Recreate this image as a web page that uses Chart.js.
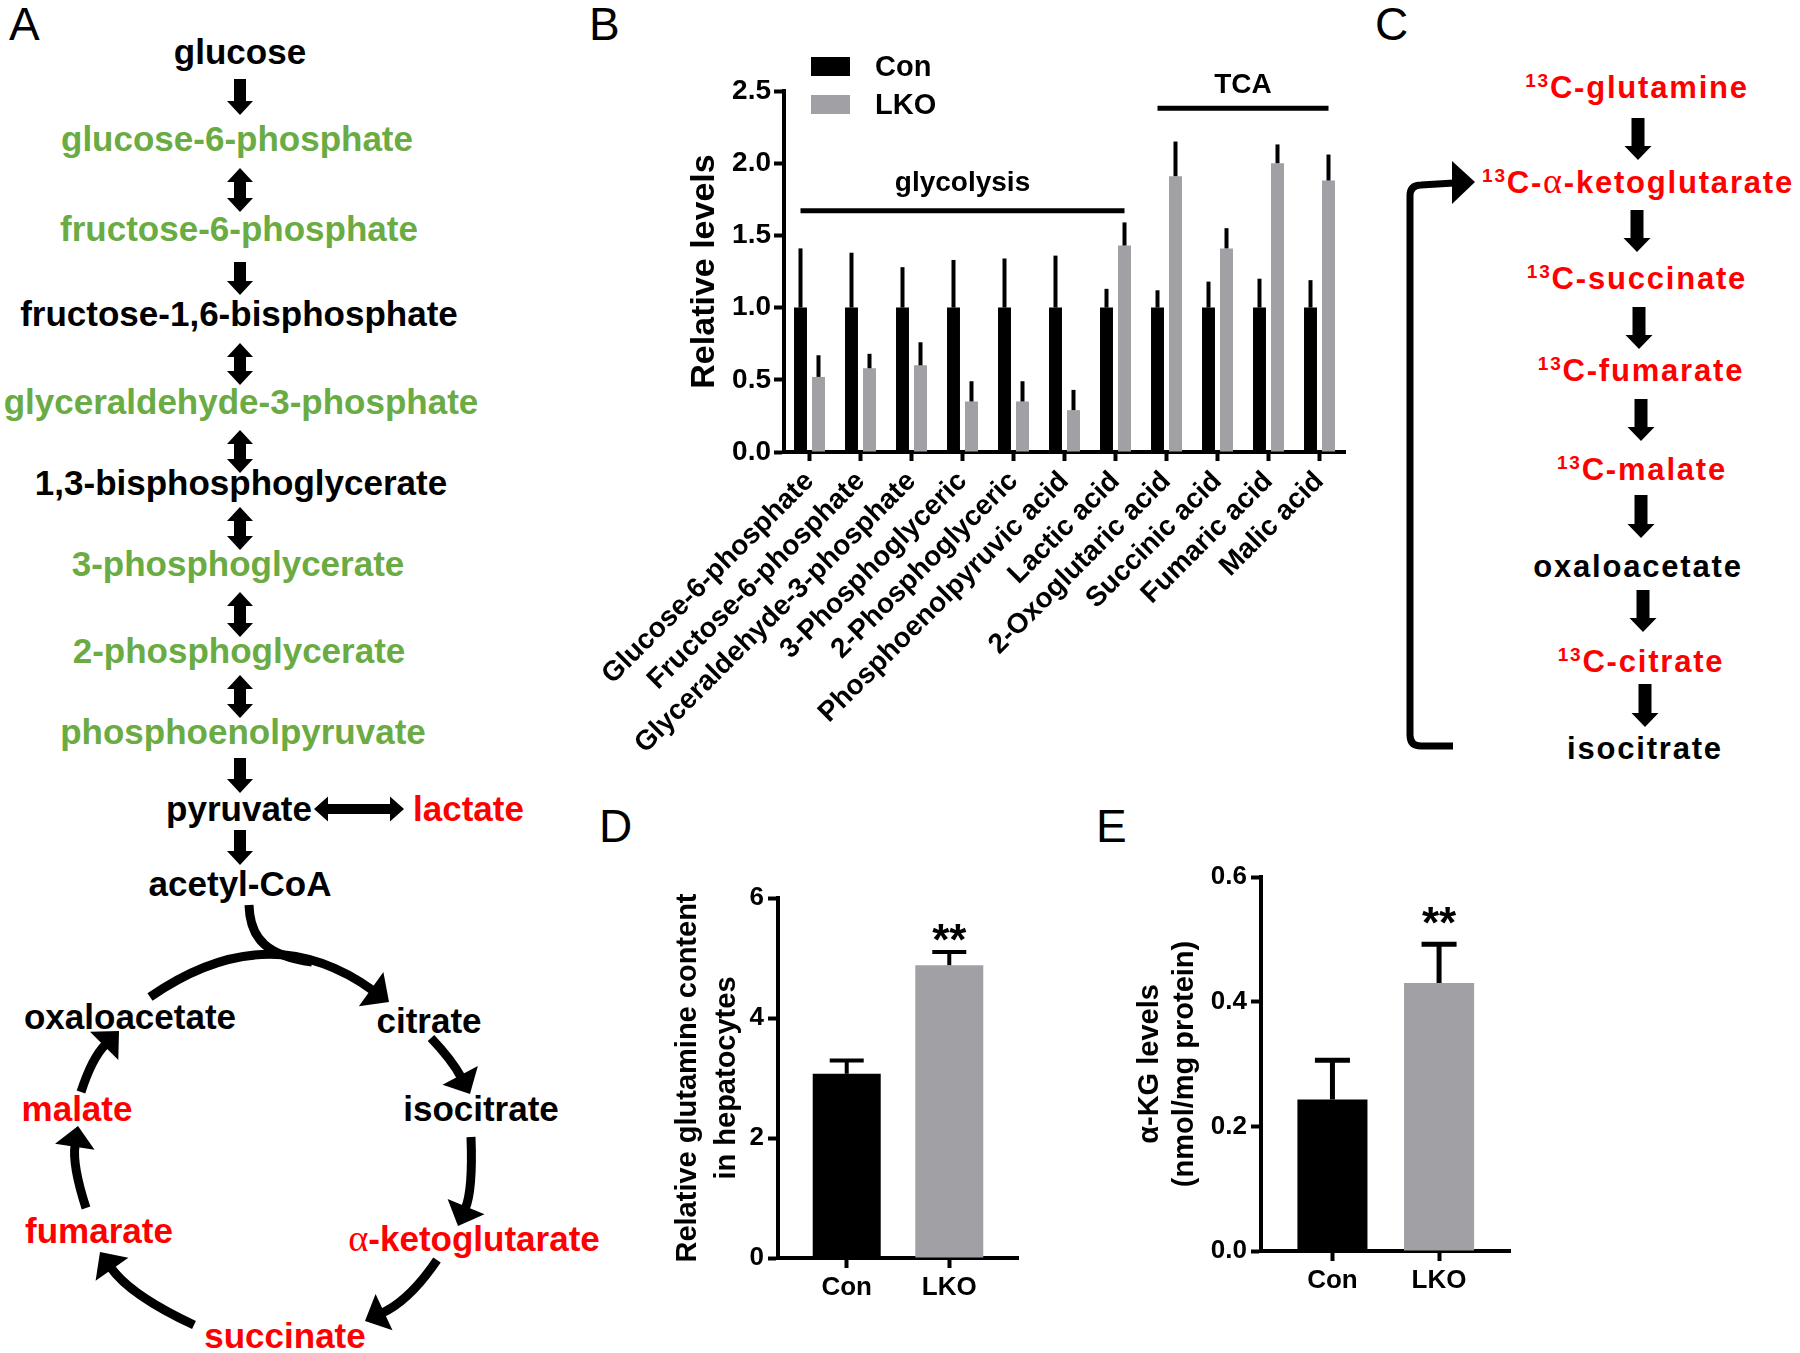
<!DOCTYPE html>
<html><head><meta charset="utf-8">
<script src="https://cdn.jsdelivr.net/npm/chart.js@4.4.0/dist/chart.umd.min.js"></script>
<style>
html,body{margin:0;padding:0;background:#fff;}
#fig{position:relative;width:1800px;height:1353px;overflow:hidden;background:#fff;}
canvas{position:absolute;}
#diag{position:absolute;left:0;top:0;}
</style></head><body>
<div id="fig">
<svg id="diag" width="1800" height="1353" xmlns="http://www.w3.org/2000/svg"></svg>
<canvas id="cB" width="820" height="800" style="left:540px;top:0px"></canvas>
<canvas id="cD" width="400" height="560" style="left:640px;top:780px"></canvas>
<canvas id="cE" width="440" height="560" style="left:1100px;top:780px"></canvas>
</div>
<script>
// ---------------- DATA ----------------
// Panel B
const metabolites = ['Glucose-6-phosphate','Fructose-6-phosphate','Glyceraldehyde-3-phosphate','3-Phosphoglyceric','2-Phosphoglyceric','Phosphoenolpyruvic acid','Lactic acid','2-Oxoglutaric acid','Succinic acid','Fumaric acid','Malic acid'];
const conLevels = [1,1,1,1,1,1,1,1,1,1,1];
const conErr    = [0.41,0.38,0.28,0.33,0.34,0.36,0.13,0.12,0.18,0.20,0.19];
const lkoLevels = [0.52,0.58,0.60,0.35,0.35,0.29,1.43,1.91,1.41,2.00,1.88];
const lkoErr    = [0.15,0.10,0.16,0.14,0.14,0.14,0.16,0.24,0.14,0.13,0.18];
const levelMax = 2.5, levelStep = 0.5;
const groupNames = ['glycolysis','TCA'];
const groupFirst = [0,7];
const groupLast  = [6,10];
const groupLine  = [1.67,2.38];
const groupText  = [1.86,2.54];
const seriesNames = ['Con','LKO'];
const seriesColors = ['#000000','#a1a1a5'];

// Panel D
const dGroups = ['Con','LKO'];
const dValues = [3.07,4.88];
const dErr    = [0.22,0.22];
const dSig    = ['','**'];
const dSigAt  = [0,5.47];
const dMax = 6, dStep = 2;

// Panel E
const eGroups = ['Con','LKO'];
const eValues = [0.243,0.430];
const eErr    = [0.063,0.062];
const eSig    = ['','**'];
const eSigAt  = [0,0.542];
const eMax = 0.6, eStep = 0.2;

// ---------------- CHARTS ----------------
const FF = "'Liberation Sans', Arial, Helvetica, sans-serif";
Chart.defaults.font.family = FF;
Chart.defaults.font.weight = 'bold';
Chart.defaults.color = '#000';
Chart.defaults.animation = false;

const errorBars = {
  id: 'errorBars',
  afterDatasetsDraw(chart, args, opts) {
    const ctx = chart.ctx, ys = chart.scales.y;
    chart.data.datasets.forEach((ds, di) => {
      if (!ds.errors) return;
      const meta = chart.getDatasetMeta(di);
      meta.data.forEach((bar, i) => {
        const raw = ds.data[i];
        const v = (typeof raw === 'object') ? raw.y : raw;
        const top = ys.getPixelForValue(v + ds.errors[i]);
        const cw = bar.width * opts.capRatio / 2;
        ctx.save();
        ctx.strokeStyle = '#000';
        ctx.lineWidth = opts.lineWidth;
        ctx.beginPath();
        ctx.moveTo(bar.x, bar.y);
        ctx.lineTo(bar.x, top);
        ctx.stroke();
        if (cw > 0) {
          ctx.beginPath();
          ctx.moveTo(bar.x - cw, top);
          ctx.lineTo(bar.x + cw, top);
          ctx.stroke();
        }
        ctx.restore();
      });
    });
  }
};

const sigMarks = {
  id: 'sigMarks',
  afterDatasetsDraw(chart, args, opts) {
    if (!opts.marks) return;
    const ctx = chart.ctx, ys = chart.scales.y;
    const meta = chart.getDatasetMeta(0);
    opts.marks.forEach((m, i) => {
      if (!m) return;
      const bar = meta.data[i];
      const y = ys.getPixelForValue(opts.at[i]);
      ctx.save();
      ctx.font = 'bold ' + opts.size + 'px ' + FF;
      ctx.fillStyle = '#000';
      ctx.textAlign = 'center';
      ctx.textBaseline = 'alphabetic';
      ctx.fillText(m, bar.x, y + opts.size * 0.57);
      ctx.restore();
    });
  }
};

const legendB = {
  id: 'legendB',
  afterDraw(chart, args, opts) {
    if (!opts.show) return;
    const ctx = chart.ctx, a = chart.chartArea;
    const x0 = a.left + 27;
    const ys = [57, 95];
    chart.data.datasets.forEach((ds, i) => {
      ctx.save();
      ctx.fillStyle = ds.backgroundColor;
      ctx.fillRect(x0, ys[i], 39, 19);
      ctx.fillStyle = '#000';
      ctx.font = 'bold 29px ' + FF;
      ctx.textBaseline = 'middle';
      ctx.textAlign = 'left';
      ctx.fillText(ds.label, x0 + 64, ys[i] + 11);
      ctx.restore();
    });
  }
};

const groupLabels = {
  id: 'groupLabels',
  afterDraw(chart, args, opts) {
    if (!opts.show) return;
    const ctx = chart.ctx, ys = chart.scales.y;
    const m0 = chart.getDatasetMeta(0), m1 = chart.getDatasetMeta(1);
    groupNames.forEach((name, g) => {
      const x1 = m0.data[groupFirst[g]].x;
      const x2 = m1.data[groupLast[g]].x;
      const yl = ys.getPixelForValue(groupLine[g]);
      const yt = ys.getPixelForValue(groupText[g]);
      ctx.save();
      ctx.strokeStyle = '#000';
      ctx.lineWidth = 5;
      ctx.beginPath(); ctx.moveTo(x1, yl); ctx.lineTo(x2, yl); ctx.stroke();
      ctx.fillStyle = '#000';
      ctx.font = 'bold 28px ' + FF;
      ctx.textAlign = 'center';
      ctx.textBaseline = 'middle';
      ctx.fillText(name, (x1 + x2) / 2, yt);
      ctx.restore();
    });
  }
};

const axisGrid = (tl) => ({display: true, drawOnChartArea: false, drawTicks: true, tickLength: tl, tickWidth: 4, tickColor: '#000', offset: false});
const axisBorder = {display: true, color: '#000', width: 4};

new Chart(document.getElementById('cB'), {
  type: 'bar',
  data: {
    labels: metabolites,
    datasets: [
      {label: seriesNames[0], data: conLevels, errors: conErr, backgroundColor: seriesColors[0], categoryPercentage: 0.706, barPercentage: 0.72},
      {label: seriesNames[1], data: lkoLevels, errors: lkoErr, backgroundColor: seriesColors[1], categoryPercentage: 0.706, barPercentage: 0.72}
    ]
  },
  options: {
    responsive: false, animation: false,
    layout: {padding: {left: 0, top: 91, right: 15, bottom: 0}},
    plugins: {legend: {display: false}, tooltip: {enabled: false},
      errorBars: {lineWidth: 4, capRatio: 0}, legendB: {show: true}, groupLabels: {show: true}},
    scales: {
      x: {type: 'category', offset: true, grid: axisGrid(9), border: axisBorder,
          ticks: {autoSkip: false, minRotation: 45, maxRotation: 45, padding: 4, font: {size: 28, weight: 'bold'}},
          afterFit: s => { s.height = 348; }},
      y: {min: 0, max: levelMax, grid: axisGrid(10), border: axisBorder,
          ticks: {stepSize: levelStep, padding: 3, font: {size: 28, weight: 'bold'}, callback: v => Number(v).toFixed(1)},
          title: {display: true, text: 'Relative levels', font: {size: 34, weight: 'bold'}, padding: {top: 144, bottom: 0}},
          afterFit: s => { s.width = 244; }}
    }
  },
  plugins: [errorBars, legendB, groupLabels]
});

function twoBar(id, groups, values, errs, marks, marksAt, yMax, yStep, dec, title, cfg) {
  return new Chart(document.getElementById(id), {
    type: 'bar',
    data: {
      labels: groups,
      datasets: [{
        data: values.map((v, i) => ({x: i, y: v})),
        errors: errs,
        backgroundColor: seriesColors,
        categoryPercentage: 1, barPercentage: cfg.barPct
      }]
    },
    options: {
      responsive: false, animation: false,
      layout: {padding: {left: 0, top: cfg.top, right: cfg.right, bottom: 0}},
      plugins: {legend: {display: false}, tooltip: {enabled: false},
        errorBars: {lineWidth: cfg.errW, capRatio: 0.5},
        sigMarks: {marks: marks, at: marksAt, size: 44}},
      scales: {
        x: {type: 'linear', min: -0.67, max: 1.67, offset: false, grid: axisGrid(10), border: axisBorder,
            afterBuildTicks: s => { s.ticks = groups.map((g, i) => ({value: i})); },
            ticks: {padding: 4, autoSkip: false, maxRotation: 0, font: {size: 26, weight: 'bold'}, callback: v => groups[v]},
            afterFit: s => { s.height = cfg.xh; }},
        y: {min: 0, max: yMax, grid: axisGrid(10), border: axisBorder,
            ticks: {stepSize: yStep, padding: 4, font: {size: 26, weight: 'bold'}, callback: v => Number(v).toFixed(dec)},
            title: {display: true, text: title, font: {size: 29, weight: 'bold', lineHeight: cfg.tlh}, padding: {top: cfg.tpad, bottom: 0}},
            afterFit: s => { s.width = cfg.yw; }}
      }
    },
    plugins: [errorBars, sigMarks]
  });
}

twoBar('cD', dGroups, dValues, dErr, dSig, dSigAt, dMax, dStep, 0,
  ['Relative glutamine content', 'in hepatocytes'],
  {barPct: 0.663, top: 118, right: 22, xh: 82, yw: 138, tlh: 1.35, tpad: 28.4, errW: 4});
twoBar('cE', eGroups, eValues, eErr, eSig, eSigAt, eMax, eStep, 1,
  ['\u03b1-KG levels', '(nmol/mg protein)'],
  {barPct: 0.657, top: 97, right: 29.5, xh: 89, yw: 161, tlh: 1.2, tpad: 32.6, errW: 5});

// ---------------- DIAGRAMS (panels A and C) ----------------
const NS = 'http://www.w3.org/2000/svg';
const svg = document.getElementById('diag');
const SVGF = 'Liberation Sans, Arial, Helvetica, sans-serif';
const SERIF = 'Liberation Serif, DejaVu Serif, serif';
const GREEN = '#6aab43', RED = '#ff0000', BLACK = '#000000';
function add(tag, attrs, txt, parent) {
  const e = document.createElementNS(NS, tag);
  for (const k in attrs) e.setAttribute(k, attrs[k]);
  if (txt != null) e.textContent = txt;
  (parent || svg).appendChild(e);
  return e;
}
// text with optional Greek alpha rendered in a serif (symbol-like) face
function fillRich(t, s) {
  const parts = s.split('\u03b1');
  parts.forEach((p, i) => {
    if (i > 0) add('tspan', {'font-family': SERIF, 'font-weight': 'normal', 'font-size': '1.1em'}, '\u03b1', t);
    if (p) add('tspan', {}, p, t);
  });
}
function label(s, cx, cy, color, anchor) {
  const t = add('text', {x: cx, y: cy + 11, fill: color, 'font-size': 35, 'font-weight': 'bold', 'text-anchor': anchor || 'middle', 'font-family': SVGF});
  fillRich(t, s);
}
function poly(pts) { add('polygon', {points: pts.map(p => p.join(',')).join(' '), fill: '#000'}); }
function vArrow(x, y1, y2, dbl, sw, hw, hl) {
  const s = sw / 2, h = hw / 2;
  const pts = [];
  if (dbl) { pts.push([x, y1], [x + h, y1 + hl], [x + s, y1 + hl]); } else { pts.push([x + s, y1]); }
  pts.push([x + s, y2 - hl], [x + h, y2 - hl], [x, y2], [x - h, y2 - hl], [x - s, y2 - hl]);
  if (dbl) { pts.push([x - s, y1 + hl], [x - h, y1 + hl]); } else { pts.push([x - s, y1]); }
  poly(pts);
}
function hArrowDbl(x1, x2, y, sw, hw, hl) {
  const s = sw / 2, h = hw / 2;
  poly([[x1, y], [x1 + hl, y - h], [x1 + hl, y - s], [x2 - hl, y - s], [x2 - hl, y - h], [x2, y],
        [x2 - hl, y + h], [x2 - hl, y + s], [x1 + hl, y + s], [x1 + hl, y + h]]);
}
function curveArrow(p0, c, tip, sw, hl, hw) {
  const dx = tip[0] - c[0], dy = tip[1] - c[1], L = Math.hypot(dx, dy);
  const ux = dx / L, uy = dy / L;
  const bx = tip[0] - ux * hl, by = tip[1] - uy * hl;
  add('path', {d: `M${p0[0]} ${p0[1]} Q${c[0]} ${c[1]} ${bx + ux * 2} ${by + uy * 2}`, fill: 'none', stroke: '#000', 'stroke-width': sw});
  const px = -uy * hw / 2, py = ux * hw / 2;
  poly([[tip[0], tip[1]], [bx + px, by + py], [bx - px, by - py]]);
}

// panel letters
[['A', 9, 40], ['B', 589, 40], ['C', 1375, 40], ['D', 599, 842], ['E', 1096, 842]].forEach(l =>
  add('text', {x: l[1], y: l[2], 'font-size': 46, 'font-family': SVGF, fill: '#000'}, l[0]));

// Panel A
[['glucose', 240, 53, BLACK], ['glucose-6-phosphate', 237, 140, GREEN], ['fructose-6-phosphate', 239, 230, GREEN],
 ['fructose-1,6-bisphosphate', 239, 315, BLACK], ['glyceraldehyde-3-phosphate', 241, 403, GREEN],
 ['1,3-bisphosphoglycerate', 241, 484, BLACK], ['3-phosphoglycerate', 238, 565, GREEN],
 ['2-phosphoglycerate', 239, 652, GREEN], ['phosphoenolpyruvate', 243, 733, GREEN], ['acetyl-CoA', 240, 885, BLACK],
 ['oxaloacetate', 130, 1018, BLACK], ['citrate', 429, 1022, BLACK], ['isocitrate', 481, 1110, BLACK],
 ['\u03b1-ketoglutarate', 474, 1240, RED], ['succinate', 285, 1337, RED], ['fumarate', 99, 1232, RED], ['malate', 77, 1110, RED]
].forEach(t => label(t[0], t[1], t[2], t[3]));
label('pyruvate', 312, 810, BLACK, 'end');
label('lactate', 413, 810, RED, 'start');

[[79, 115, false], [168, 212, true], [262, 295, false], [343, 385, true], [430, 473, true], [507, 550, true],
 [592, 637, true], [675, 718, true], [758, 793, false], [830, 865, false]].forEach(a => vArrow(240, a[0], a[1], a[2], 12, 26, 14));
hArrowDbl(314, 404, 809, 10, 25, 14);

// TCA cycle
add('path', {d: 'M249 905 C250 940 268 956 312 962', fill: 'none', stroke: '#000', 'stroke-width': 9});
curveArrow([150, 997], [268, 915], [389, 1002], 9, 22, 42);
curveArrow([431, 1038], [452, 1060], [470, 1094], 9, 21, 40);
curveArrow([471, 1137], [473, 1190], [458, 1226], 9, 21, 40);
curveArrow([437, 1260], [410, 1300], [365, 1321], 9, 21, 40);
curveArrow([194, 1325], [130, 1295], [100, 1252], 9, 21, 40);
curveArrow([86, 1208], [72, 1165], [78, 1126], 9, 21, 40);
curveArrow([81, 1092], [92, 1058], [119, 1031], 9, 21, 40);

// Panel C
function clabel(sup, main, cx, cy, color) {
  const t = add('text', {x: cx, y: cy + 11, fill: color, 'font-size': 31, 'font-weight': 'bold', 'text-anchor': 'middle', 'font-family': SVGF, 'letter-spacing': 1.8});
  if (sup) {
    add('tspan', {'font-size': 19, dy: -11}, sup, t);
    const parts = main.split('\u03b1');
    parts.forEach((p, i) => {
      const attrs = (i === 0) ? {dy: 11} : {};
      if (i > 0) add('tspan', Object.assign({'font-family': SERIF, 'font-weight': 'normal', 'font-size': 36}, {}), '\u03b1', t);
      if (p) add('tspan', attrs, p, t);
    });
  } else {
    t.textContent = main;
  }
}
[['13', 'C-glutamine', 1637, 87, RED], ['13', 'C-\u03b1-ketoglutarate', 1638, 182, RED], ['13', 'C-succinate', 1637, 278, RED],
 ['13', 'C-fumarate', 1641, 370, RED], ['13', 'C-malate', 1642, 469, RED], [null, 'oxaloacetate', 1638, 566, BLACK],
 ['13', 'C-citrate', 1641, 661, RED], [null, 'isocitrate', 1645, 748, BLACK]
].forEach(t => clabel(t[0], t[1], t[2], t[3], t[4]));
[[1638, 118, 160], [1637, 210, 252], [1639, 307, 349], [1641, 399, 441], [1641, 495, 538], [1643, 590, 632], [1645, 684, 727]]
  .forEach(a => vArrow(a[0], a[1], a[2], false, 13, 27, 14));
add('path', {d: 'M1453 746 L1421 746 Q1410 746 1410 735 L1410 196 Q1410 185 1421 185 L1454 183', fill: 'none', stroke: '#000', 'stroke-width': 7});
poly([[1452, 161], [1475, 182], [1452, 204]]);
</script>
</body></html>
